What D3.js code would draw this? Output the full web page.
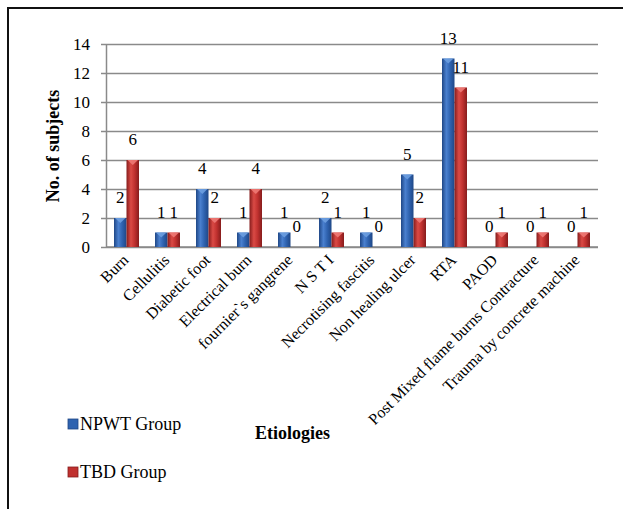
<!DOCTYPE html>
<html>
<head>
<meta charset="utf-8">
<script src="https://cdn.jsdelivr.net/npm/d3@7"></script>
<style>
  html, body { margin: 0; padding: 0; background: #fff; }
  svg { display: block; }
  text { font-family: "Liberation Serif", "Times New Roman", serif; fill: #000; }
</style>
</head>
<body>
<svg id="chart" width="623" height="509"></svg>
<script>
const categories = [
  "Burn", "Cellulitis", "Diabetic foot", "Electrical burn", "fournier`s gangrene",
  "N S T I", "Necrotising fascitis", "Non healing ulcer", "RTA", "PAOD",
  "Post Mixed flame burns Contracture", "Trauma by concrete machine"
];
const npwtGroup = [2, 1, 4, 1, 1, 2, 1, 5, 13, 0, 0, 0];
const tbdGroup  = [6, 1, 2, 4, 0, 1, 0, 2, 11, 1, 1, 1];
const seriesNames = ["NPWT Group", "TBD Group"];
const yTicks = [0, 2, 4, 6, 8, 10, 12, 14];

const svg = d3.select("#chart");

// outer frame
svg.append("rect")
  .attr("x", 8).attr("y", 8).attr("width", 700).attr("height", 600)
  .attr("fill", "none").attr("stroke", "#111").attr("stroke-width", 2);

// gradients for the bar fills
const defs = svg.append("defs");
function barGradient(id, edge, mid, light) {
  const g = defs.append("linearGradient").attr("id", id)
    .attr("x1", "0%").attr("x2", "100%").attr("y1", "0%").attr("y2", "0%");
  g.append("stop").attr("offset", "0%").attr("stop-color", edge);
  g.append("stop").attr("offset", "35%").attr("stop-color", light);
  g.append("stop").attr("offset", "65%").attr("stop-color", mid);
  g.append("stop").attr("offset", "100%").attr("stop-color", edge);
}
barGradient("gBlue", "#1f4786", "#2f63b0", "#4a80cf");
barGradient("gRed", "#861c1c", "#c0312f", "#da4a45");
const fills = ["url(#gBlue)", "url(#gRed)"];
const caps = ["#6d9fe0", "#ee7a76"];
const legendFills = ["#2f63b0", "#c0312f"];

const plot = { left: 106, right: 598, top: 44, bottom: 247 };

const x = d3.scaleBand().domain(categories).range([plot.left, plot.right]).paddingInner(0).paddingOuter(0);
const y = d3.scaleLinear().domain([0, 14]).range([plot.bottom, plot.top]);
const barW = 12.5;
const xSub = d3.scaleBand().domain([0, 1]).range([-barW, barW]);

// horizontal gridlines with short outer ticks
const yAxis = d3.axisLeft(y).tickValues(yTicks)
  .tickSize(-(plot.right - plot.left)).tickSizeOuter(0).tickPadding(16);
const yg = svg.append("g").attr("transform", `translate(${plot.left},0)`).call(yAxis);
yg.select(".domain").attr("stroke", "#8a8a8a").attr("stroke-width", 1.5);
yg.selectAll(".tick line").attr("stroke", "#8a8a8a").attr("stroke-width", 1.5).attr("x1", -5);
yg.selectAll(".tick text")
  .style("font-family", "'Liberation Serif', 'Times New Roman', serif")
  .style("font-size", "17px").attr("fill", "#000").attr("dy", "0.35em");

// bottom axis line
svg.append("line")
  .attr("x1", plot.left).attr("x2", plot.right)
  .attr("y1", y(0)).attr("y2", y(0))
  .attr("stroke", "#8a8a8a").attr("stroke-width", 1.5);

// bars
const rows = categories.map((c, i) => ({ cat: c, vals: [npwtGroup[i], tbdGroup[i]] }));
const groups = svg.append("g").selectAll("g").data(rows).join("g")
  .attr("transform", d => `translate(${x(d.cat) + x.bandwidth() / 2},0)`);

groups.each(function (d) {
  const g = d3.select(this);
  d.vals.forEach((v, s) => {
    const bx = xSub(s);
    const top = y(v);
    const h = y(0) - top;
    if (h > 0) {
      g.append("rect")
        .attr("x", bx).attr("y", top).attr("width", barW).attr("height", h)
        .attr("fill", fills[s]);
      g.append("path")
        .attr("d", `M${bx + 1},${top} L${bx + barW - 1},${top} L${bx + barW / 2},${top + 5} Z`)
        .attr("fill", caps[s]).attr("opacity", 0.9);
    }
    g.append("text")
      .attr("x", bx + barW / 2).attr("y", top - 15)
      .attr("text-anchor", "middle")
      .style("font-size", "17px")
      .text(v);
  });
});

// rotated category labels
svg.append("g").selectAll("text").data(categories).join("text")
  .attr("transform", d => `translate(${x(d) + x.bandwidth() / 2 + 3},${plot.bottom + 14}) rotate(-45)`)
  .attr("text-anchor", "end")
  .style("font-size", "16px")
  .text(d => d);

// axis titles
svg.append("text")
  .attr("transform", `translate(59,146) rotate(-90)`)
  .attr("text-anchor", "middle")
  .style("font-size", "18px").style("font-weight", "bold")
  .text("No. of subjects");

svg.append("text")
  .attr("x", 255).attr("y", 439)
  .style("font-size", "18px").style("font-weight", "bold")
  .text("Etiologies");

// legend
const legend = svg.append("g").selectAll("g").data(seriesNames).join("g")
  .attr("transform", (d, i) => `translate(68,${419 + i * 48})`);
legend.append("rect")
  .attr("width", 10).attr("height", 10)
  .attr("fill", (d, i) => legendFills[i])
  .attr("stroke", (d, i) => i === 0 ? "#1f4786" : "#861c1c").attr("stroke-width", 0.8);
legend.append("text")
  .attr("x", 12).attr("y", 11)
  .style("font-size", "18px")
  .text(d => d);
</script>
</body>
</html>
